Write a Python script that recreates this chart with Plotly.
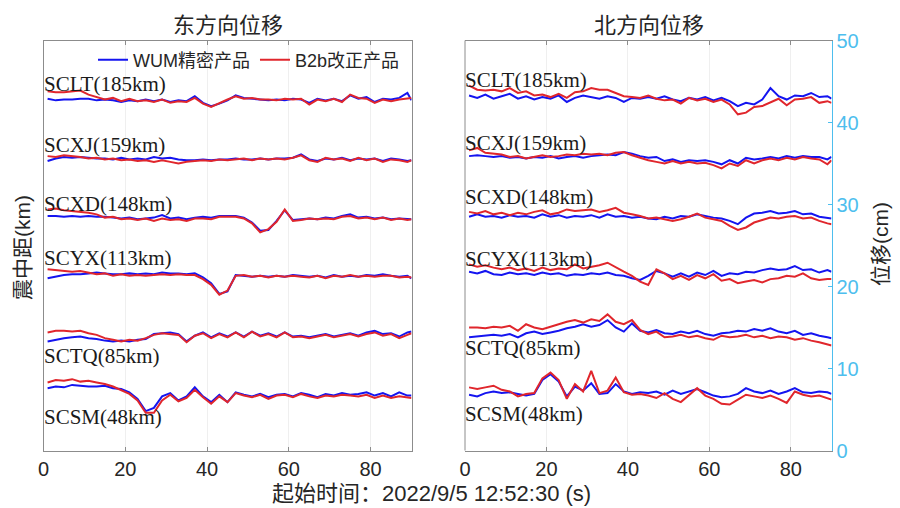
import plotly.graph_objects as go

# Sample times (s) after 2022/9/5 12:52:30
times = [1, 3, 5, 7, 9, 11, 13, 15, 17, 19, 21, 23, 25, 27, 29, 31, 33, 35, 37, 39, 41, 43, 45,
         47, 49, 51, 53, 55, 57, 59, 61, 63, 65, 67, 69, 71, 73, 75, 77, 79, 81, 83, 85, 87, 89, 90]

stations = ["SCLT(185km)", "SCXJ(159km)", "SCXD(148km)", "SCYX(113km)", "SCTQ(85km)", "SCSM(48km)"]

# ---- East component (cm, stacked by epicentral distance) ----
east_sclt_wum = [42.9, 42.7, 42.8, 42.8, 42.9, 42.9, 42.7, 42.8, 42.7, 42.5, 42.7, 42.6, 42.8, 42.6, 42.8, 42.5,
                 42.7, 42.6, 43.2, 42.4, 42.0, 42.3, 42.7, 43.3, 43.0, 42.9, 42.8, 42.7, 42.8, 42.7, 42.9, 42.8,
                 42.4, 42.9, 42.7, 42.9, 42.6, 43.3, 42.9, 43.1, 42.5, 42.9, 42.8, 43.0, 43.6, 42.7]
east_sclt_b2b = [43.8, 43.7, 43.7, 43.8, 43.9, 43.4, 43.1, 42.8, 43.0, 42.6, 42.9, 42.6, 42.7, 42.5, 42.8, 42.4,
                 42.6, 42.5, 43.0, 42.3, 41.9, 42.4, 42.8, 43.2, 42.9, 43.0, 42.8, 42.8, 42.7, 42.9, 42.8, 42.9,
                 42.2, 42.8, 42.6, 42.9, 42.5, 43.4, 43.0, 42.9, 42.4, 42.8, 42.6, 42.8, 42.9, 43.0]
east_scxj_wum = [35.3, 35.6, 35.8, 35.7, 35.8, 35.7, 35.6, 35.6, 35.5, 35.7, 35.5, 35.6, 35.5, 35.8, 35.6, 35.7,
                 35.5, 35.4, 35.4, 35.5, 35.4, 35.5, 35.5, 35.6, 35.5, 35.5, 35.6, 35.5, 35.6, 35.6, 35.7, 36.1,
                 35.5, 35.3, 35.6, 35.5, 35.7, 35.4, 35.6, 35.5, 35.6, 35.3, 35.6, 35.5, 35.3, 35.4]
east_scxj_b2b = [35.9, 35.8, 36.0, 35.9, 35.8, 35.6, 35.7, 35.5, 35.6, 35.4, 35.5, 35.3, 35.4, 35.2, 35.4, 35.2,
                 35.0, 35.2, 35.3, 35.4, 35.3, 35.5, 35.4, 35.5, 35.6, 35.4, 35.6, 35.5, 35.6, 35.5, 35.7, 36.0,
                 35.4, 35.2, 35.7, 35.5, 35.6, 35.3, 35.7, 35.4, 35.6, 35.2, 35.5, 35.4, 35.2, 35.4]
east_scxd_wum = [28.6, 28.6, 28.5, 28.6, 28.5, 28.6, 28.5, 28.5, 28.4, 28.3, 28.4, 28.2, 28.3, 28.4, 28.7, 28.3,
                 28.4, 28.2, 28.4, 28.5, 28.4, 28.6, 28.6, 28.6, 28.4, 27.8, 26.8, 26.9, 28.0, 29.3, 28.1, 28.2,
                 28.3, 28.2, 28.4, 28.3, 28.6, 28.8, 28.4, 28.5, 28.3, 28.4, 28.2, 28.3, 28.2, 28.2]
east_scxd_b2b = [29.4, 29.5, 29.3, 29.2, 29.1, 29.0, 28.8, 28.4, 28.5, 28.2, 28.3, 28.1, 28.3, 28.0, 28.3, 28.1,
                 28.2, 28.0, 28.3, 28.3, 28.2, 28.5, 28.5, 28.5, 28.3, 27.7, 26.6, 27.0, 27.9, 29.4, 28.0, 28.1,
                 28.3, 28.2, 28.3, 28.2, 28.5, 28.6, 28.3, 28.4, 28.2, 28.4, 28.1, 28.3, 28.1, 28.2]
east_scyx_wum = [21.0, 21.2, 21.4, 21.5, 21.5, 21.6, 21.7, 21.6, 21.5, 21.5, 21.6, 21.5, 21.6, 21.5, 21.7, 21.6,
                 21.6, 21.5, 21.6, 21.1, 20.4, 19.1, 19.4, 21.4, 21.3, 21.2, 21.3, 21.2, 21.3, 21.2, 21.4, 21.3,
                 21.2, 21.3, 21.1, 21.4, 21.2, 21.3, 21.2, 21.4, 21.3, 21.5, 21.3, 21.2, 21.3, 21.0]
east_scyx_b2b = [22.1, 22.0, 21.9, 21.8, 21.9, 21.7, 21.5, 21.6, 21.3, 21.5, 21.3, 21.4, 21.3, 21.4, 21.5, 21.4,
                 21.5, 21.4, 21.4, 20.9, 20.2, 19.0, 19.5, 21.3, 21.4, 21.2, 21.3, 21.1, 21.3, 21.2, 21.3, 21.2,
                 21.1, 21.3, 21.0, 21.3, 21.2, 21.4, 21.2, 21.3, 21.2, 21.3, 21.3, 21.1, 21.2, 21.1]
east_sctq_wum = [13.3, 13.5, 13.7, 13.8, 13.9, 13.7, 13.6, 13.4, 13.3, 13.4, 13.3, 13.5, 13.6, 14.2, 14.3, 14.4,
                 14.2, 13.3, 14.0, 14.4, 13.8, 14.3, 13.9, 14.4, 13.9, 14.5, 14.0, 14.3, 13.9, 14.4, 13.9, 14.0,
                 13.8, 14.0, 14.2, 13.9, 14.1, 14.3, 14.0, 14.4, 14.6, 14.2, 14.3, 13.9, 14.4, 14.5]
east_sctq_b2b = [14.4, 14.6, 14.6, 14.5, 14.6, 14.3, 14.1, 13.7, 13.5, 13.3, 13.5, 13.4, 13.7, 14.1, 14.3, 14.2,
                 14.1, 13.2, 14.0, 14.3, 13.7, 14.2, 13.8, 14.4, 13.8, 14.5, 13.9, 14.2, 13.8, 14.4, 13.8, 13.9,
                 13.7, 13.9, 14.1, 13.8, 14.0, 14.2, 13.9, 14.2, 14.4, 14.0, 14.2, 13.7, 14.1, 14.3]
east_scsm_wum = [7.6, 7.8, 7.7, 8.0, 7.9, 7.8, 7.8, 7.9, 7.6, 7.5, 7.1, 6.3, 4.8, 5.2, 6.6, 7.0,
                 6.1, 6.6, 7.7, 6.6, 5.9, 6.8, 5.9, 7.1, 6.8, 6.6, 6.9, 6.5, 6.8, 6.9, 6.6, 7.0,
                 6.8, 6.5, 6.9, 6.7, 7.0, 6.8, 6.9, 7.1, 6.7, 7.0, 6.6, 7.1, 6.7, 6.7]
east_scsm_b2b = [8.3, 8.6, 8.5, 8.7, 8.4, 8.5, 8.3, 8.1, 7.8, 7.3, 6.9, 6.1, 4.6, 4.6, 6.1, 6.8,
                 6.0, 6.4, 7.4, 6.5, 5.7, 6.6, 5.9, 7.0, 6.7, 6.5, 6.8, 6.3, 6.7, 6.8, 6.5, 6.9,
                 6.6, 6.4, 6.7, 6.6, 6.8, 6.7, 6.6, 6.8, 6.4, 6.7, 6.4, 6.6, 6.5, 6.4]

# ---- North component (cm) ----
north_sclt_wum = [43.3, 43.0, 43.4, 42.9, 43.2, 43.5, 42.9, 43.2, 42.8, 43.1, 42.9, 43.3, 42.5, 43.0, 43.3, 43.1,
                  42.9, 43.2, 43.0, 42.5, 43.0, 42.9, 43.1, 42.9, 43.2, 42.8, 42.6, 43.0, 42.8, 43.1, 42.7, 43.0,
                  42.6, 42.0, 42.4, 42.2, 42.8, 44.2, 43.2, 42.8, 43.3, 43.2, 43.6, 43.1, 43.2, 42.9]
north_sclt_b2b = [44.5, 44.0, 43.9, 44.0, 43.8, 44.2, 43.6, 43.8, 43.3, 43.4, 43.1, 43.5, 43.0, 43.7, 43.8, 44.2,
                  44.0, 44.0, 43.6, 43.2, 43.1, 43.0, 43.3, 42.9, 42.7, 42.8, 42.3, 43.0, 42.7, 42.9, 42.5, 42.8,
                  42.2, 41.0, 41.2, 41.9, 42.0, 42.5, 42.9, 42.1, 42.8, 42.9, 43.1, 42.4, 42.6, 42.4]
north_scxj_wum = [35.9, 36.0, 35.9, 35.8, 35.9, 35.7, 35.8, 35.6, 35.8, 35.7, 35.9, 35.6, 35.8, 35.9, 35.7, 35.9,
                  36.0, 36.1, 36.0, 36.4, 36.2, 35.9, 35.7, 35.8, 35.3, 35.5, 35.2, 35.4, 35.3, 35.4, 35.2, 34.9,
                  35.4, 35.0, 35.7, 35.5, 35.6, 35.8, 35.6, 35.9, 35.7, 35.9, 35.8, 35.8, 35.5, 35.8]
north_scxj_b2b = [36.6, 36.9, 36.3, 36.2, 36.1, 35.8, 35.9, 35.6, 35.8, 36.0, 35.8, 35.9, 36.1, 36.0, 36.2, 36.1,
                  36.2, 36.0, 36.3, 36.4, 36.0, 35.7, 35.4, 35.2, 35.0, 35.3, 35.0, 35.2, 35.0, 35.1, 34.8, 34.4,
                  35.0, 34.7, 35.4, 35.0, 35.4, 35.6, 35.4, 35.7, 35.5, 35.8, 35.6, 35.5, 34.9, 35.4]
north_scxd_wum = [28.5, 28.8, 28.5, 28.6, 28.4, 28.7, 28.5, 28.6, 28.4, 28.8, 28.5, 28.7, 28.4, 28.6, 28.5, 28.7,
                  28.4, 28.8, 28.5, 28.6, 28.4, 28.5, 28.3, 28.2, 28.5, 28.3, 28.6, 28.5, 28.8, 28.6, 28.4, 28.3,
                  28.0, 27.6, 28.4, 28.9, 29.0, 29.2, 28.9, 29.0, 29.2, 28.8, 28.9, 28.5, 28.4, 28.3]
north_scxd_b2b = [29.1, 28.9, 29.2, 28.8, 29.0, 28.7, 29.0, 28.8, 29.1, 29.3, 28.8, 29.0, 29.4, 29.2, 29.3, 29.4,
                  29.1, 29.3, 29.6, 29.0, 28.8, 28.6, 28.3, 28.4, 28.2, 28.0, 28.2, 28.5, 28.9, 28.4, 28.2, 28.0,
                  27.4, 26.9, 27.2, 27.8, 28.1, 28.4, 28.3, 28.5, 28.6, 28.3, 28.4, 28.0, 27.7, 27.6]
north_scyx_wum = [21.8, 21.6, 21.9, 21.5, 21.4, 21.7, 21.5, 21.6, 21.4, 21.7, 21.5, 21.6, 21.3, 21.5, 21.4, 21.6,
                  21.5, 21.7, 21.4, 21.3, 21.0, 20.8, 21.3, 21.9, 21.6, 21.2, 21.6, 21.2, 21.7, 21.4, 21.9, 21.3,
                  21.6, 21.5, 21.8, 21.7, 22.0, 22.2, 22.0, 22.1, 22.5, 22.0, 22.1, 21.7, 22.0, 21.8]
north_scyx_b2b = [22.7, 22.4, 22.6, 22.3, 22.1, 22.3, 22.0, 22.2, 21.9, 22.3, 22.0, 22.2, 22.1, 22.7, 22.2, 22.4,
                  22.6, 22.9, 22.3, 21.8, 21.3, 20.6, 20.2, 22.1, 21.6, 20.9, 21.3, 20.8, 21.4, 21.0, 21.5, 20.7,
                  20.9, 20.4, 20.6, 20.8, 20.5, 20.9, 21.0, 21.3, 21.2, 21.6, 21.0, 20.8, 20.9, 20.9]
north_sctq_wum = [13.8, 13.9, 14.0, 14.1, 14.0, 14.2, 13.8, 14.3, 14.5, 14.2, 14.4, 14.6, 14.9, 15.1, 15.4, 15.1,
                  15.3, 15.9, 15.0, 14.5, 15.5, 14.6, 14.4, 14.7, 14.3, 14.2, 14.5, 14.3, 14.6, 14.2, 14.0, 14.3,
                  14.4, 14.6, 14.5, 14.8, 14.6, 14.9, 14.5, 14.3, 14.6, 14.1, 14.3, 14.0, 13.8, 13.7]
north_sctq_b2b = [15.0, 15.0, 14.9, 15.1, 15.0, 15.2, 14.6, 15.4, 15.0, 14.8, 15.1, 15.4, 15.7, 15.9, 15.6, 16.0,
                  15.8, 16.6, 15.7, 15.4, 15.9, 14.7, 14.2, 14.5, 13.8, 13.9, 14.1, 13.8, 14.0, 13.7, 13.5, 14.0,
                  13.8, 13.9, 14.1, 13.8, 14.0, 13.7, 13.9, 13.8, 13.5, 13.7, 13.4, 13.2, 12.9, 12.8]
north_scsm_wum = [6.8, 6.6, 7.0, 7.2, 7.0, 7.1, 6.9, 6.7, 6.9, 8.6, 9.3, 8.4, 6.6, 7.8, 7.3, 8.2,
                  6.9, 7.0, 8.1, 7.2, 6.9, 7.1, 7.0, 7.2, 6.8, 7.3, 6.9, 7.2, 7.5, 7.1, 6.7, 6.5,
                  6.6, 6.9, 7.6, 7.2, 7.0, 7.3, 6.9, 7.2, 7.6, 7.1, 7.0, 7.2, 7.1, 6.9]
north_scsm_b2b = [7.7, 7.5, 7.7, 7.9, 7.4, 7.2, 6.6, 6.9, 7.0, 8.8, 9.5, 8.6, 6.3, 8.1, 7.2, 9.7,
                  7.0, 7.3, 8.9, 7.1, 6.8, 6.9, 6.7, 6.4, 7.0, 6.3, 5.9, 6.8, 7.6, 6.7, 6.3, 5.7,
                  5.6, 6.2, 6.8, 6.6, 6.4, 6.7, 6.3, 5.8, 7.2, 6.8, 6.6, 6.7, 6.4, 6.2]

east_wum = [east_sclt_wum, east_scxj_wum, east_scxd_wum, east_scyx_wum, east_sctq_wum, east_scsm_wum]
east_b2b = [east_sclt_b2b, east_scxj_b2b, east_scxd_b2b, east_scyx_b2b, east_sctq_b2b, east_scsm_b2b]
north_wum = [north_sclt_wum, north_scxj_wum, north_scxd_wum, north_scyx_wum, north_sctq_wum, north_scsm_wum]
north_b2b = [north_sclt_b2b, north_scxj_b2b, north_scxd_b2b, north_scyx_b2b, north_sctq_b2b, north_scsm_b2b]

# Vertical placement of the station names (axis units)
east_label_y = [44.7, 37.3, 30.1, 23.5, 11.5, 4.1]
north_label_y = [45.2, 37.5, 30.9, 23.4, 12.5, 4.5]

BLUE = "#1414f0"
RED = "#e0262c"
CYAN = "#4dbeee"
FRAME = "#8c8c8c"
TEXT = "#262626"
SANS = "Liberation Sans, Noto Sans CJK SC, sans-serif"
CJK = "Noto Sans CJK SC, sans-serif"
SERIF = "Liberation Serif, serif"

fig = go.Figure()

for panel, (wum_sets, b2b_sets) in enumerate([(east_wum, east_b2b), (north_wum, north_b2b)]):
    xa = "x" if panel == 0 else "x2"
    ya = "y" if panel == 0 else "y2"
    for i in range(len(stations)):
        first = panel == 0 and i == 0
        fig.add_trace(go.Scatter(x=times, y=wum_sets[i], mode="lines", xaxis=xa, yaxis=ya,
                                 line=dict(color=BLUE, width=2), name="WUM精密产品",
                                 legendgroup="wum", showlegend=first))
        fig.add_trace(go.Scatter(x=times, y=b2b_sets[i], mode="lines", xaxis=xa, yaxis=ya,
                                 line=dict(color=RED, width=2), name="B2b改正产品",
                                 legendgroup="b2b", showlegend=first))

annotations = []
for name, ly in zip(stations, east_label_y):
    annotations.append(dict(x=0, y=ly, xref="x", yref="y", text=name, showarrow=False,
                            xanchor="left", yanchor="middle", xshift=-2,
                            font=dict(family=SERIF, size=21, color="#1a1a1a")))
for name, ly in zip(stations, north_label_y):
    annotations.append(dict(x=0, y=ly, xref="x2", yref="y2", text=name, showarrow=False,
                            xanchor="left", yanchor="middle", xshift=-2,
                            font=dict(family=SERIF, size=21, color="#1a1a1a")))

W, H = 900, 508
left_dom = [43.5 / W, 411.5 / W]
right_dom = [465 / W, 831.5 / W]
y_dom = [(H - 450.5) / H, (H - 40.5) / H]

annotations += [
    dict(x=228 / W, y=1 - 23 / H, xref="paper", yref="paper", text="东方向位移", showarrow=False,
         xanchor="center", yanchor="middle", font=dict(family=CJK, size=22, color=TEXT)),
    dict(x=649 / W, y=1 - 23 / H, xref="paper", yref="paper", text="北方向位移", showarrow=False,
         xanchor="center", yanchor="middle", font=dict(family=CJK, size=22, color=TEXT)),
    dict(x=22 / W, y=1 - 248 / H, xref="paper", yref="paper", text="震中距(km)", showarrow=False,
         textangle=-90, xanchor="center", yanchor="middle", font=dict(family=SANS, size=21, color=TEXT)),
    dict(x=880 / W, y=1 - 244 / H, xref="paper", yref="paper", text="位移(cm)", showarrow=False,
         textangle=-90, xanchor="center", yanchor="middle", font=dict(family=SANS, size=21, color=TEXT)),
    dict(x=431 / W, y=1 - 493 / H, xref="paper", yref="paper", text="起始时间：2022/9/5 12:52:30 (s)",
         showarrow=False, xanchor="center", yanchor="middle", font=dict(family=SANS, size=22, color=TEXT)),
]

xaxis_common = dict(range=[0, 90], tickvals=[0, 20, 40, 60, 80], ticks="inside", ticklen=4,
                    tickcolor=FRAME, showline=True, linecolor=FRAME, linewidth=1, mirror="ticks",
                    showgrid=True, gridcolor="#efefef", gridwidth=1, zeroline=False,
                    tickfont=dict(family=SANS, size=20, color=TEXT))

fig.update_layout(
    width=W, height=H,
    margin=dict(l=0, r=0, t=0, b=0, autoexpand=False),
    paper_bgcolor="white", plot_bgcolor="rgba(0,0,0,0)",
    showlegend=True,
    legend=dict(orientation="h", x=93 / W, y=1 - 60 / H, xanchor="left", yanchor="middle",
                bgcolor="rgba(0,0,0,0)", font=dict(family=SANS, size=18, color=TEXT),
                itemwidth=30, tracegroupgap=0),
    xaxis=dict(domain=left_dom, anchor="y", **xaxis_common),
    yaxis=dict(domain=y_dom, anchor="x", range=[0, 50], showticklabels=False, ticks="",
               showline=True, mirror=True, linecolor=FRAME, linewidth=1, showgrid=False, zeroline=False),
    xaxis2=dict(domain=right_dom, anchor="y2", **xaxis_common),
    yaxis2=dict(domain=y_dom, anchor="x2", side="right", range=[0, 50], tickvals=[0, 10, 20, 30, 40, 50],
                ticks="inside", ticklen=4, tickcolor=CYAN, showline=True, linecolor=CYAN, linewidth=1,
                showgrid=False, zeroline=False, tickfont=dict(family=SANS, size=20, color=CYAN)),
    annotations=annotations,
    shapes=[dict(type="line", xref="paper", yref="paper", x0=right_dom[0], x1=right_dom[0],
                 y0=y_dom[0], y1=y_dom[1], line=dict(color=FRAME, width=1))],
)

fig.write_html("out.html")
